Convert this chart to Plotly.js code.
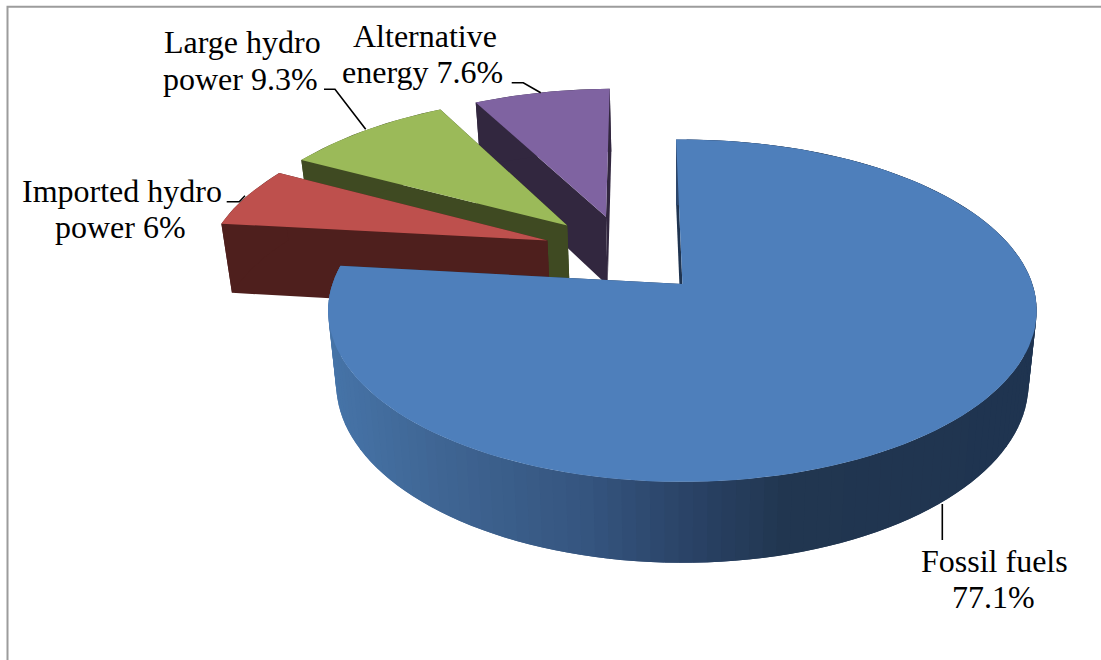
<!DOCTYPE html>
<html>
<head>
<meta charset="utf-8">
<script src="https://cdn.plot.ly/plotly-3.0.1.min.js"></script>
<style>html,body{margin:0;padding:0;background:#fff}#chart{width:1101px;height:660px}</style>
</head>
<body>
<div id="chart"></div>
<script>
// Shares of electricity generation by source, in percent.
const categories = ["Fossil fuels", "Imported hydro power", "Large hydro power", "Alternative energy"];
const shares = [77.1, 6, 9.3, 7.6];
const topColors = ["#4e7fbb", "#be504d", "#9bba59", "#7f63a1"];
const sideColors = ["#1f3450", "#4e1f1d", "#3f4a22", "#32273f"];
// How far each slice is pulled out of the pie, in radii (right, back).
const pullOut = [[0, 0], [-0.402, 0.272], [-0.348, 0.37], [-0.233, 0.43]];

// Label text, one entry per drawn line: text, centre x, baseline y.
const labelText = ["Large hydro", "power 9.3%", "Alternative", "energy 7.6%", "Imported hydro", "power 6%", "Fossil fuels", "77.1%"];
const labelX = [242, 240, 424.5, 422, 122, 120, 994, 993];
const labelBase = [53, 90, 47, 83, 201.7, 238, 571.7, 608];
const leaderLines = [
  [[324, 335, 365.7], [89.3, 89.3, 129.3]],
  [[511.7, 523.3, 540.7], [82.7, 82.7, 92.7]],
  [[226.7, 239.3, 245], [201.7, 201.7, 195.7]],
  [[942.3, 942.3], [504, 540]]
];

// Side wall shading of the big slice: screen x and colour.
const wallStops = [[330, [70, 116, 168]], [450, [63, 101, 147]], [600, [53, 85, 127]], [700, [42, 67, 103]], [800, [33, 54, 80]], [1040, [31, 52, 80]]];

// Perspective of the pie plane.
const camera = {cx: 682.4, cy: 284, radius: 350, tilt: 167, k: 0.156, rotation: -1.2};

function projectTop(x, y) {
  const w = 1 + camera.k * y;
  return [camera.cx + camera.radius * x / w, camera.cy - camera.tilt * y / w];
}
// The lower face sits below the top one and converges slightly.
function dropToBase(p) {
  return [680 + (p[0] - 680) * 0.977, p[1] + 69 + 0.0458 * (p[1] - 220)];
}
function wallColor(x) {
  for (let i = 1; i < wallStops.length; i++) {
    if (x <= wallStops[i][0]) {
      const a = wallStops[i - 1], b = wallStops[i];
      const t = Math.max(0, (x - a[0]) / (b[0] - a[0]));
      const c = a[1].map((v, j) => Math.round(v + (b[1][j] - v) * t));
      return `rgb(${c[0]},${c[1]},${c[2]})`;
    }
  }
  const c = wallStops[wallStops.length - 1][1];
  return `rgb(${c[0]},${c[1]},${c[2]})`;
}
function polygon(points, color) {
  return {
    type: "scatter", mode: "lines", fill: "toself", fillcolor: color,
    x: points.map(p => p[0]), y: points.map(p => p[1]),
    line: {color: color, width: 0}, hoverinfo: "skip", showlegend: false
  };
}

// Turn the shares into start and end angles, clockwise from the top of the pie.
const total = shares.reduce((a, b) => a + b, 0);
let running = camera.rotation;
const wedges = shares.map((v, i) => {
  const start = running;
  running += v / total * 360;
  return {index: i, start: start, end: running};
});

function wedgeTraces(w) {
  const [ox, oy] = pullOut[w.index];
  const steps = Math.max(8, Math.round((w.end - w.start) / 2));
  const rim = [];
  for (let s = 0; s <= steps; s++) {
    const a = (w.start + (w.end - w.start) * s / steps) * Math.PI / 180;
    rim.push(projectTop(ox + Math.sin(a), oy + Math.cos(a)));
  }
  const apex = projectTop(ox, oy);
  const out = [];
  const side = sideColors[w.index];
  out.push(polygon([apex, rim[rim.length - 1], dropToBase(rim[rim.length - 1]), dropToBase(apex), apex], side));
  out.push(polygon([apex, rim[0], dropToBase(rim[0]), dropToBase(apex), apex], side));
  if (w.index === 0) {
    // Shaded wall: each band runs on under the next so no seams show between them.
    for (let s = steps - 1; s >= 0; s--) {
      const a = rim[s], b = rim[s + 1], c = rim[Math.min(s + 2, steps)];
      out.push(polygon([a, b, c, dropToBase(c), dropToBase(b), dropToBase(a), a], wallColor((a[0] + b[0]) / 2)));
    }
  } else {
    out.push(polygon(rim.concat(rim.slice().reverse().map(dropToBase), [rim[0]]), side));
  }
  out.push(polygon([apex].concat(rim, [apex]), topColors[w.index]));
  return out;
}

// Paint from the back of the scene to the front.
const paintOrder = [3, 2, 1, 0];
const traces = [];
traces.push({type: "scatter", mode: "lines", x: [7.5, 7.5, 1101], y: [660, 6.8, 6.8],
  line: {color: "#9c9c9c", width: 2}, hoverinfo: "skip", showlegend: false});
paintOrder.forEach(i => traces.push(...wedgeTraces(wedges[i])));
leaderLines.forEach(l => traces.push({type: "scatter", mode: "lines", x: l[0], y: l[1],
  line: {color: "#000", width: 1.6}, hoverinfo: "skip", showlegend: false}));

const fontSize = 32;
const annotations = labelText.map((t, i) => ({
  text: t, x: labelX[i], y: labelBase[i] - 11, xref: "x", yref: "y",
  xanchor: "center", yanchor: "middle", showarrow: false,
  font: {family: "Liberation Serif", size: fontSize, color: "#000"}
}));

Plotly.newPlot("chart", traces, {
  width: 1101, height: 660,
  margin: {l: 0, r: 0, t: 0, b: 0},
  paper_bgcolor: "#fff", plot_bgcolor: "#fff",
  xaxis: {range: [0, 1101], visible: false, fixedrange: true},
  yaxis: {range: [660, 0], visible: false, fixedrange: true},
  showlegend: false, annotations: annotations
}, {displayModeBar: false, staticPlot: true});
</script>
</body>
</html>
